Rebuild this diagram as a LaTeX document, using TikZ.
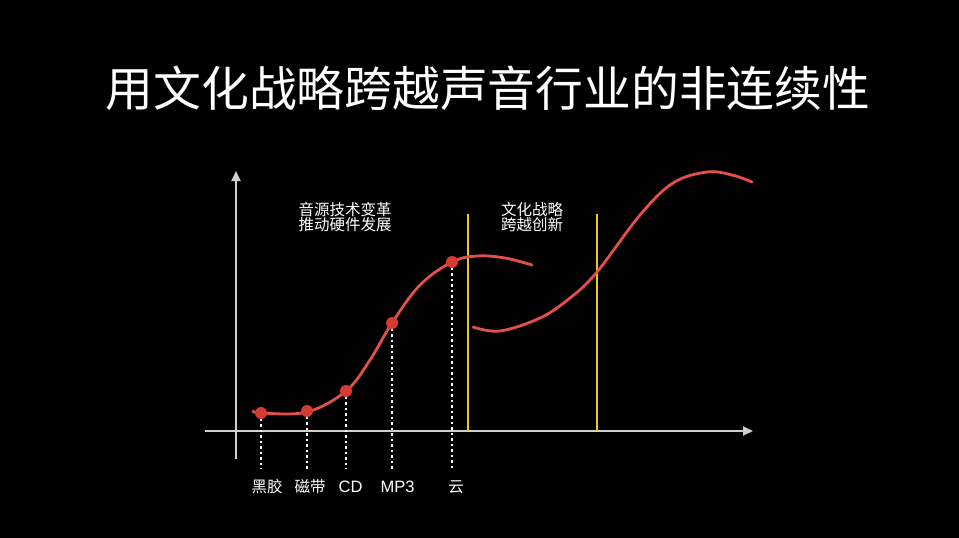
\documentclass[tikz,border=0pt]{standalone}
\usepackage{fontspec}
\setmainfont{Liberation Sans}
\newfontfamily\cjk{Noto Sans CJK SC}
\usetikzlibrary{arrows.meta}
\definecolor{curvered}{HTML}{E2504C}
\definecolor{dotred}{HTML}{D63A32}
\definecolor{axisgray}{HTML}{D0D0D0}
\definecolor{lineyellow}{HTML}{E8C832}
\tikzset{
  axisline/.style={draw=axisgray, line width=1.8pt, -{Triangle[length=10pt,width=9pt]}},
  scurve/.style={draw=curvered, line width=2.8pt, line cap=round},
  dotnode/.style={circle, fill=dotred, minimum size=12pt, inner sep=0pt},
  dropline/.style={draw=white, line width=1.8pt, dash pattern=on 2.5pt off 3pt},
  yline/.style={draw=lineyellow, line width=1.3pt},
  smalltxt/.style={text=white, font=\cjk\fontsize{15.5}{15.5}\selectfont, align=center, inner sep=0pt},
  lbltxt/.style={text=white, font=\cjk\fontsize{15.5}{17}\selectfont, inner sep=0pt},
  lbllatin/.style={text=white, font=\fontsize{16.5}{18}\selectfont, inner sep=0pt},
}
\begin{document}
\begin{tikzpicture}[x=1pt,y=-1pt]
\fill[black] (0,0) rectangle (959,538);
\useasboundingbox (0,0) rectangle (959,538);
% title
\node[text=white, font=\cjk\fontsize{47.8}{50}\selectfont, inner sep=0pt] (title) at (488,88) {用文化战略跨越声音行业的非连续性};
% axes
\coordinate (yb) at (236,459);
\coordinate (yt) at (236,171);
\coordinate (xl) at (205,431);
\coordinate (xr) at (753,431);
\draw[axisline] (yb) -- (yt);
\draw[axisline] (xl) -- (xr);
% yellow lines
\coordinate (y1t) at (468,214);
\coordinate (y1b) at (468,431);
\coordinate (y2t) at (597,214);
\coordinate (y2b) at (597,431);
\draw[yline] (y1t) -- (y1b);
\draw[yline] (y2t) -- (y2b);
% drop line anchors
\coordinate (c1) at (261,413);
\coordinate (c2) at (307,411);
\coordinate (c3) at (346,391);
\coordinate (c4) at (392,323);
\coordinate (c5) at (452,262);
\coordinate (e1) at (261,469);
\coordinate (e2) at (307,469);
\coordinate (e3) at (346,469);
\coordinate (e4) at (392,469);
\coordinate (e5) at (452,469);
\draw[dropline] (c1) -- (e1);
\draw[dropline] (c2) -- (e2);
\draw[dropline] (c3) -- (e3);
\draw[dropline] (c4) -- (e4);
\draw[dropline] (c5) -- (e5);
% curves
\draw[scurve] plot[smooth, tension=0.6] coordinates {(253,411) (261,413) (307,412) (346,391) (370,360) (392,323) (420,285) (452,262) (477,256) (505,258) (532,265)};
\draw[scurve] plot[smooth, tension=0.6] coordinates {(473,327) (500,331) (540,318) (570,298) (597,272) (640,215) (673,183) (707,172) (732,175) (752,182)};
% dots
\node[dotnode] (d1) at (c1) {};
\node[dotnode] (d2) at (c2) {};
\node[dotnode] (d3) at (c3) {};
\node[dotnode] (d4) at (c4) {};
\node[dotnode] (d5) at (c5) {};
% labels
\node[lbltxt] (l1) at (267,487) {黑胶};
\node[lbltxt] (l2) at (310,487) {磁带};
\node[lbllatin] (l3) at (350.5,487) {CD};
\node[lbllatin] (l4) at (397.5,487) {MP3};
\node[lbltxt] (l5) at (456,487) {云};
% annotations
\node[smalltxt] (t1) at (345,217) {音源技术变革\\推动硬件发展};
\node[smalltxt] (t2) at (532,217) {文化战略\\跨越创新};
\end{tikzpicture}
\end{document}
